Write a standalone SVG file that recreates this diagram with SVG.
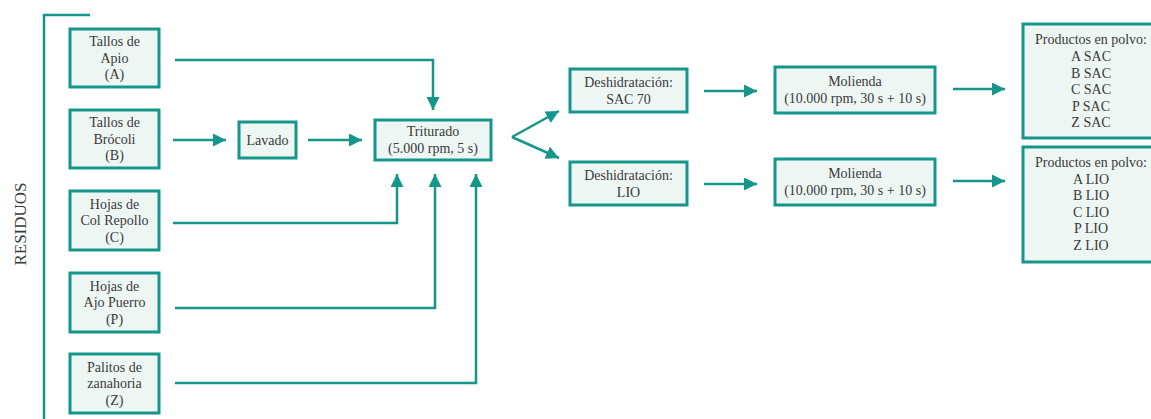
<svg xmlns="http://www.w3.org/2000/svg" width="1151" height="419" viewBox="0 0 1151 419">
<style>
.box{fill:#eef6f3;stroke:#14968a;stroke-width:3}
.ln{fill:none;stroke:#14968a;stroke-width:2.5}
.ar{marker-end:url(#ah)}
text{font-family:"Liberation Serif","Times New Roman",serif;font-size:14px;fill:#3a3a3a;text-anchor:middle}
</style>
<defs>
<marker id="ah" markerUnits="userSpaceOnUse" markerWidth="14" markerHeight="14" refX="13" refY="6.5" orient="auto">
<path d="M0,0 L13,6.5 L0,13 z" fill="#14968a"/>
</marker>
</defs>
<rect width="1151" height="419" fill="#ffffff"/>
<text x="20" y="224" transform="rotate(-90 20 224)" style="font-size:17px" dominant-baseline="central">RESIDUOS</text>
<g id="connectors">
<polyline class="ln" points="90,15 44,15 44,419"/>
<polyline class="ln ar" points="175,60 433,60 433,110"/>
<line class="ln ar" x1="173" y1="140" x2="226" y2="140"/>
<line class="ln ar" x1="308" y1="140" x2="362" y2="140"/>
<polyline class="ln ar" points="173,223 397,223 397,174"/>
<polyline class="ln ar" points="175,308 435,308 435,174"/>
<polyline class="ln ar" points="175,383 476,383 476,174"/>
<line class="ln ar" x1="512" y1="137" x2="559" y2="111"/>
<line class="ln ar" x1="512" y1="137" x2="559" y2="158"/>
<line class="ln ar" x1="704" y1="91" x2="757" y2="91"/>
<line class="ln ar" x1="704" y1="184" x2="757" y2="184"/>
<line class="ln ar" x1="953" y1="89" x2="1005" y2="89"/>
<line class="ln ar" x1="953" y1="181" x2="1005" y2="181"/>
</g>
<g id="nodeA"><rect class="box" x="70" y="29" width="89" height="58"/><text x="114.5" y="46">Tallos de</text><text x="114.5" y="62.5">Apio</text><text x="114.5" y="79">(A)</text></g>
<g id="nodeB"><rect class="box" x="70" y="110" width="89" height="58"/><text x="114.5" y="127">Tallos de</text><text x="114.5" y="143.5">Brócoli</text><text x="114.5" y="160">(B)</text></g>
<g id="nodeC"><rect class="box" x="70" y="191" width="89" height="59"/><text x="114.5" y="208.5">Hojas de</text><text x="114.5" y="225">Col Repollo</text><text x="114.5" y="241.5">(C)</text></g>
<g id="nodeP"><rect class="box" x="70" y="273" width="89" height="59"/><text x="114.5" y="290.5">Hojas de</text><text x="114.5" y="307">Ajo Puerro</text><text x="114.5" y="323.5">(P)</text></g>
<g id="nodeZ"><rect class="box" x="70" y="354" width="89" height="59"/><text x="114.5" y="371.5">Palitos de</text><text x="114.5" y="388">zanahoria</text><text x="114.5" y="404.5">(Z)</text></g>
<g id="lavado"><rect class="box" x="239" y="122" width="57" height="36"/><text x="267.5" y="145">Lavado</text></g>
<g id="triturado"><rect class="box" x="375" y="120" width="116" height="40"/><text x="433" y="136">Triturado</text><text x="433" y="153">(5.000 rpm, 5 s)</text></g>
<g id="deshSAC"><rect class="box" x="570" y="69" width="117" height="43"/><text x="628.5" y="87">Deshidratación:</text><text x="628.5" y="104">SAC 70</text></g>
<g id="deshLIO"><rect class="box" x="570" y="162" width="117" height="43"/><text x="628.5" y="180">Deshidratación:</text><text x="628.5" y="197">LIO</text></g>
<g id="moliendaSAC"><rect class="box" x="775" y="67" width="160" height="46"/><text x="855" y="86">Molienda</text><text x="855" y="103">(10.000 rpm, 30 s + 10 s)</text></g>
<g id="moliendaLIO"><rect class="box" x="775" y="159" width="160" height="46"/><text x="855" y="178">Molienda</text><text x="855" y="195">(10.000 rpm, 30 s + 10 s)</text></g>
<g id="productosSAC"><rect class="box" x="1023" y="24" width="140" height="114"/><text x="1091" y="44">Productos en polvo:</text><text x="1091" y="61">A SAC</text><text x="1091" y="77.5">B SAC</text><text x="1091" y="94">C SAC</text><text x="1091" y="110.5">P SAC</text><text x="1091" y="127">Z SAC</text></g>
<g id="productosLIO"><rect class="box" x="1023" y="147" width="140" height="115"/><text x="1091" y="167">Productos en polvo:</text><text x="1091" y="183.5">A LIO</text><text x="1091" y="200">B LIO</text><text x="1091" y="216.5">C LIO</text><text x="1091" y="233">P LIO</text><text x="1091" y="249.5">Z LIO</text></g>
</svg>
